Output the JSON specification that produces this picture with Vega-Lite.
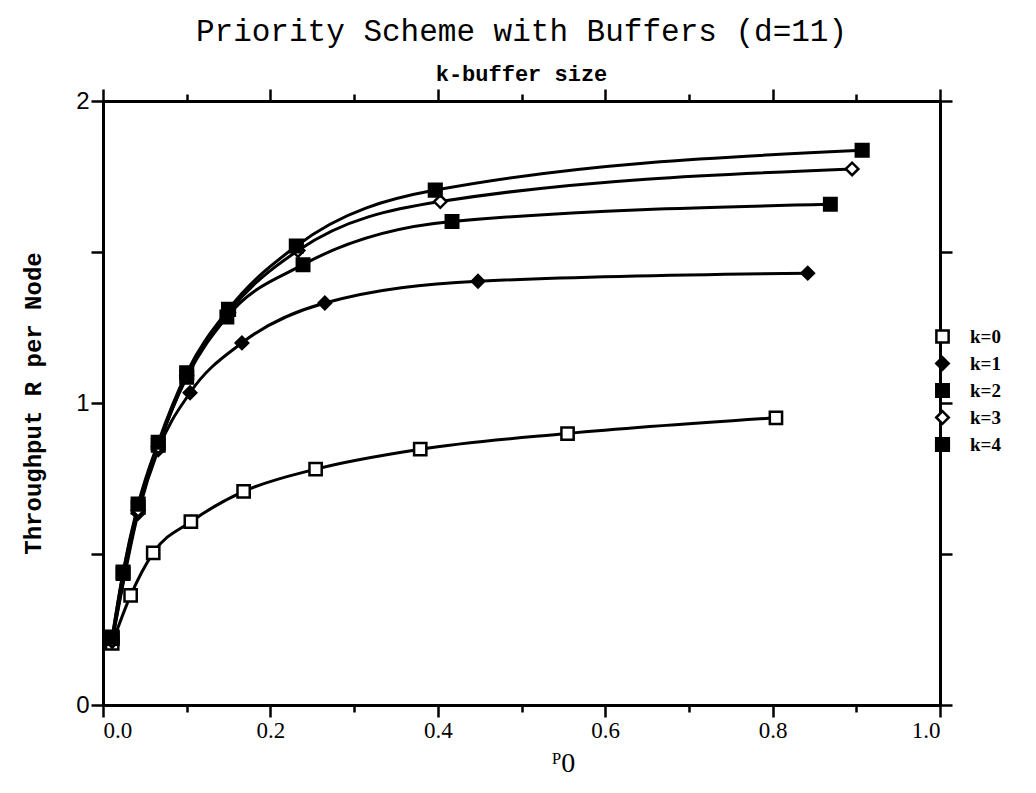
{
  "$schema": "https://vega.github.io/schema/vega-lite/v6.json",
  "width": 837,
  "height": 604,
  "autosize": {"type": "none"},
  "padding": {"left": 103, "top": 101, "right": 96, "bottom": 88},
  "background": "white",
  "title": {
    "text": "Priority Scheme with Buffers (d=11)",
    "subtitle": "k-buffer size",
    "font": "Liberation Mono",
    "fontSize": 31,
    "fontWeight": "normal",
    "color": "black",
    "subtitleFont": "Liberation Mono",
    "subtitleFontSize": 22,
    "subtitleFontWeight": "bold",
    "subtitleColor": "black",
    "subtitlePadding": 16,
    "anchor": "middle",
    "offset": 2
  },
  "config": {
    "view": {"stroke": "black", "strokeWidth": 2},
    "axis": {
      "domainColor": "black",
      "domainWidth": 3,
      "tickColor": "black",
      "tickWidth": 2.5,
      "labelColor": "black",
      "titleColor": "black",
      "grid": false
    }
  },
  "data": {
    "values": [
      {"k": "k=0", "p": 0.011, "r": 0.204},
      {"k": "k=0", "p": 0.033, "r": 0.363},
      {"k": "k=0", "p": 0.060, "r": 0.504},
      {"k": "k=0", "p": 0.105, "r": 0.607},
      {"k": "k=0", "p": 0.168, "r": 0.707},
      {"k": "k=0", "p": 0.254, "r": 0.781},
      {"k": "k=0", "p": 0.379, "r": 0.847},
      {"k": "k=0", "p": 0.555, "r": 0.899},
      {"k": "k=0", "p": 0.804, "r": 0.951},
      {"k": "k=1", "p": 0.011, "r": 0.21},
      {"k": "k=1", "p": 0.042, "r": 0.635},
      {"k": "k=1", "p": 0.066, "r": 0.845},
      {"k": "k=1", "p": 0.104, "r": 1.034},
      {"k": "k=1", "p": 0.166, "r": 1.199},
      {"k": "k=1", "p": 0.265, "r": 1.331},
      {"k": "k=1", "p": 0.448, "r": 1.403},
      {"k": "k=1", "p": 0.842, "r": 1.430},
      {"k": "k=2", "p": 0.011, "r": 0.22},
      {"k": "k=2", "p": 0.024, "r": 0.435},
      {"k": "k=2", "p": 0.042, "r": 0.655},
      {"k": "k=2", "p": 0.066, "r": 0.86},
      {"k": "k=2", "p": 0.100, "r": 1.085},
      {"k": "k=2", "p": 0.148, "r": 1.285},
      {"k": "k=2", "p": 0.239, "r": 1.458},
      {"k": "k=2", "p": 0.417, "r": 1.601},
      {"k": "k=2", "p": 0.869, "r": 1.658},
      {"k": "k=3", "p": 0.011, "r": 0.215},
      {"k": "k=3", "p": 0.042, "r": 0.645},
      {"k": "k=3", "p": 0.066, "r": 0.855},
      {"k": "k=3", "p": 0.100, "r": 1.09},
      {"k": "k=3", "p": 0.150, "r": 1.30},
      {"k": "k=3", "p": 0.233, "r": 1.505},
      {"k": "k=3", "p": 0.403, "r": 1.667},
      {"k": "k=3", "p": 0.895, "r": 1.775},
      {"k": "k=4", "p": 0.011, "r": 0.225},
      {"k": "k=4", "p": 0.024, "r": 0.44},
      {"k": "k=4", "p": 0.042, "r": 0.665},
      {"k": "k=4", "p": 0.066, "r": 0.87},
      {"k": "k=4", "p": 0.100, "r": 1.10},
      {"k": "k=4", "p": 0.150, "r": 1.31},
      {"k": "k=4", "p": 0.231, "r": 1.52},
      {"k": "k=4", "p": 0.397, "r": 1.705},
      {"k": "k=4", "p": 0.907, "r": 1.837}
    ]
  },
  "layer": [
    {
      "mark": {"type": "line", "interpolate": "monotone", "color": "black", "strokeWidth": 3},
      "encoding": {
        "x": {
          "field": "p", "type": "quantitative",
          "scale": {"domain": [0, 1], "nice": false},
          "axis": {
            "orient": "bottom",
            "values": [0, 0.1, 0.2, 0.3, 0.4, 0.5, 0.6, 0.7, 0.8, 0.9, 1.0],
            "labelExpr": "round(datum.value * 10) % 2 == 0 ? format(datum.value, '.1f') : ''",
            "tickSize": {"condition": {"test": "round(datum.value * 10) % 2 == 0", "value": 12}, "value": 7},
            "labelFont": "Liberation Serif",
            "labelFontSize": 23,
            "labelPadding": 2,
            "title": "ᴾ0",
            "titleFont": "Liberation Serif",
            "titleFontSize": 28,
            "titleFontWeight": "normal",
            "titlePadding": 7,
            "titleX": 460
          }
        },
        "y": {
          "field": "r", "type": "quantitative",
          "scale": {"domain": [0, 2], "nice": false},
          "axis": {
            "orient": "left",
            "values": [0, 0.5, 1, 1.5, 2],
            "labelExpr": "datum.value % 1 == 0 ? format(datum.value, 'd') : ''",
            "tickSize": 12,
            "labelFont": "Liberation Sans",
            "labelFontSize": 24,
            "labelPadding": 2,
            "title": "Throughput R per Node",
            "titleFont": "Liberation Mono",
            "titleFontSize": 24,
            "titleFontWeight": "bold",
            "titlePadding": 30
          }
        },
        "detail": {"field": "k"}
      }
    },
    {
      "mark": {"type": "point", "filled": true, "stroke": "black", "strokeWidth": 2.5, "opacity": 1},
      "encoding": {
        "x": {"field": "p", "type": "quantitative", "axis": null},
        "y": {"field": "r", "type": "quantitative", "axis": null},
        "shape": {
          "field": "k", "type": "nominal",
          "scale": {"domain": ["k=0", "k=1", "k=2", "k=3", "k=4"], "range": ["square", "diamond", "square", "diamond", "square"]},
          "legend": {
            "title": null,
            "orient": "none",
            "legendX": 830,
            "legendY": 226,
            "labelFont": "Liberation Serif",
            "labelFontWeight": "bold",
            "labelFontSize": 19,
            "labelColor": "black",
            "symbolStrokeColor": "black",
            "symbolStrokeWidth": 2.5,
            "rowPadding": 4,
            "labelOffset": 18
          }
        },
        "fill": {
          "field": "k", "type": "nominal",
          "scale": {"domain": ["k=0", "k=1", "k=2", "k=3", "k=4"], "range": ["white", "black", "black", "white", "black"]}
        },
        "size": {
          "field": "k", "type": "nominal",
          "scale": {"domain": ["k=0", "k=1", "k=2", "k=3", "k=4"], "range": [150, 160, 220, 170, 280]}
        },
        "order": {"field": "k", "type": "nominal"}
      }
    },
    {
      "mark": {"type": "point", "opacity": 0},
      "encoding": {
        "x": {
          "field": "p", "type": "quantitative",
          "axis": {
            "orient": "top",
            "values": [0, 0.1, 0.2, 0.3, 0.4, 0.5, 0.6, 0.7, 0.8, 0.9, 1.0],
            "labels": false,
            "title": null,
            "tickSize": {"condition": {"test": "round(datum.value * 10) % 2 == 0", "value": 12}, "value": 7}
          }
        },
        "y": {
          "field": "r", "type": "quantitative",
          "axis": {
            "orient": "right",
            "values": [0, 0.5, 1, 1.5, 2],
            "labels": false,
            "title": null,
            "tickSize": 12
          }
        }
      }
    }
  ],
  "resolve": {"axis": {"x": "independent", "y": "independent"}}
}
